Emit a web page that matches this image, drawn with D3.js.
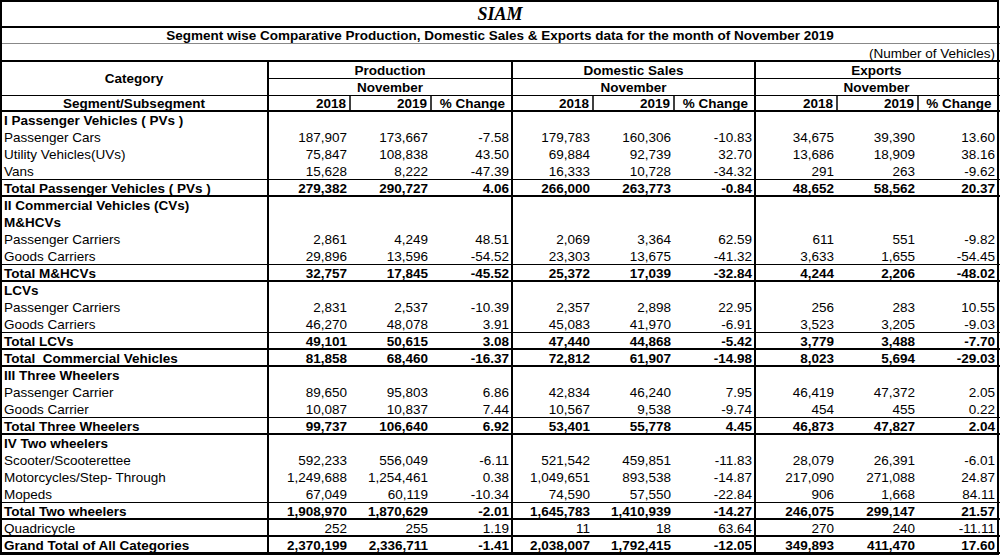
<!DOCTYPE html>
<html>
<head>
<meta charset="utf-8">
<script src="https://cdn.jsdelivr.net/npm/d3@7"></script>
<style>
  html, body { margin: 0; padding: 0; background: #fff; }
  svg { display: block; }
  text { font-family: "Liberation Sans", Arial, sans-serif; font-size: 13.5px; fill: #000; white-space: pre; }
</style>
</head>
<body>
<svg id="chart" width="1000" height="555"></svg>
<script>
// ---------------- DATA ----------------
const titleText = "SIAM";
const subtitleText = "Segment wise Comparative Production, Domestic Sales & Exports data for the month of November 2019";
const unitText = "(Number of Vehicles)";
const groups = ["Production", "Domestic Sales", "Exports"];
const monthLabel = "November";
const subHeaders = ["2018", "2019", "% Change"];

const rowLabels = [
  "I Passenger Vehicles ( PVs )", "Passenger Cars", "Utility Vehicles(UVs)", "Vans",
  "Total Passenger Vehicles ( PVs )", "II Commercial Vehicles (CVs)", "M&HCVs",
  "Passenger Carriers", "Goods Carriers", "Total M&HCVs", "LCVs", "Passenger Carriers",
  "Goods Carriers", "Total LCVs", "Total  Commercial Vehicles", "III Three Wheelers",
  "Passenger Carrier", "Goods Carrier", "Total Three Wheelers", "IV Two wheelers",
  "Scooter/Scooterettee", "Motorcycles/Step- Through", "Mopeds", "Total Two wheelers",
  "Quadricycle", "Grand Total of All Categories"
];
// s = section heading, i = item, t = total (bold), q = boxed plain row
const rowKinds = ["s","i","i","i","t","s","s","i","i","t","s","i","i","t","t","s","i","i","t","s","i","i","i","t","q","t"];

const prod2018 = [null,187907,75847,15628,279382,null,null,2861,29896,32757,null,2831,46270,49101,81858,null,89650,10087,99737,null,592233,1249688,67049,1908970,252,2370199];
const prod2019 = [null,173667,108838,8222,290727,null,null,4249,13596,17845,null,2537,48078,50615,68460,null,95803,10837,106640,null,556049,1254461,60119,1870629,255,2336711];
const prodChg  = [null,-7.58,43.50,-47.39,4.06,null,null,48.51,-54.52,-45.52,null,-10.39,3.91,3.08,-16.37,null,6.86,7.44,6.92,null,-6.11,0.38,-10.34,-2.01,1.19,-1.41];

const dom2018 = [null,179783,69884,16333,266000,null,null,2069,23303,25372,null,2357,45083,47440,72812,null,42834,10567,53401,null,521542,1049651,74590,1645783,11,2038007];
const dom2019 = [null,160306,92739,10728,263773,null,null,3364,13675,17039,null,2898,41970,44868,61907,null,46240,9538,55778,null,459851,893538,57550,1410939,18,1792415];
const domChg  = [null,-10.83,32.70,-34.32,-0.84,null,null,62.59,-41.32,-32.84,null,22.95,-6.91,-5.42,-14.98,null,7.95,-9.74,4.45,null,-11.83,-14.87,-22.84,-14.27,63.64,-12.05];

const exp2018 = [null,34675,13686,291,48652,null,null,611,3633,4244,null,256,3523,3779,8023,null,46419,454,46873,null,28079,217090,906,246075,270,349893];
const exp2019 = [null,39390,18909,263,58562,null,null,551,1655,2206,null,283,3205,3488,5694,null,47372,455,47827,null,26391,271088,1668,299147,240,411470];
const expChg  = [null,13.60,38.16,-9.62,20.37,null,null,-9.82,-54.45,-48.02,null,10.55,-9.03,-7.70,-29.03,null,2.05,0.22,2.04,null,-6.01,24.87,84.11,21.57,-11.11,17.60];

// ---------------- LAYOUT ----------------
const svg = d3.select("#chart");
const W = 1000, H = 555;
const colEdges = [0, 268, 350, 431, 512, 593, 674, 755, 837, 918, 998];
const groupEdges = [268, 512, 755, 998];
const bodyTop = 111, rowH = 17;

const y = d3.scaleLinear().domain([0, rowLabels.length]).range([bodyTop, bodyTop + rowH * rowLabels.length]);
const loc = d3.formatLocale({ decimal: ".", thousands: ",", grouping: [3], currency: ["", ""], minus: "-" });
const fmtInt = loc.format(",");
const fmtPct = loc.format(".2f");

const columns = [prod2018, prod2019, prodChg, dom2018, dom2019, domChg, exp2018, exp2019, expChg];

const lines = svg.append("g");
function hline(yy, x1, x2, w, c) {
  lines.append("line").attr("x1", x1).attr("x2", x2).attr("y1", yy).attr("y2", yy)
    .attr("stroke", c || "#000").attr("stroke-width", w);
}
function vline(xx, y1, y2, w, c) {
  lines.append("line").attr("x1", xx).attr("x2", xx).attr("y1", y1).attr("y2", y2)
    .attr("stroke", c || "#000").attr("stroke-width", w);
}

const txt = svg.append("g");
function label(str, xx, yy, anchor, opts) {
  opts = opts || {};
  const t = txt.append("text").attr("x", xx).attr("y", yy).attr("text-anchor", anchor)
    .attr("dominant-baseline", "central").text(str);
  if (opts.bold) t.attr("font-weight", "bold");
  if (opts.family) t.style("font-family", opts.family);
  if (opts.size) t.style("font-size", opts.size + "px");
  if (opts.italic) t.attr("font-style", "italic");
  return t;
}

// Title rows
label(titleText, 500, 14, "middle", { bold: true, italic: true, family: "'Liberation Serif', 'Times New Roman', serif", size: 18 });
label(subtitleText, 500, 35.5, "middle", { bold: true });
label(unitText, 995, 53, "end");

// header
label("Category", 134, 78.5, "middle", { bold: true });
label("Segment/Subsegment", 134, 103.5, "middle", { bold: true });
groups.forEach((g, gi) => {
  const x0 = groupEdges[gi], x1 = groupEdges[gi + 1];
  label(g, (x0 + x1) / 2, 70, "middle", { bold: true });
  label(monthLabel, (x0 + x1) / 2, 87, "middle", { bold: true });
  subHeaders.forEach((s, si) => {
    const ci = 1 + gi * 3 + si;
    if (si < 2) label(s, colEdges[ci + 1] - 4, 103.5, "end", { bold: true });
    else label(s, (colEdges[ci] + colEdges[ci + 1]) / 2 + 1, 103.5, "middle", { bold: true });
  });
});

// body rows
rowLabels.forEach((lab, i) => {
  const kind = rowKinds[i];
  const cy = y(i) + rowH / 2 + 0.5;
  const bold = kind === "s" || kind === "t";
  label(lab, 4, cy, "start", { bold });
  if (kind === "s") return;
  columns.forEach((col, ci) => {
    const v = col[i];
    if (v == null) return;
    const isPct = ci % 3 === 2;
    label(isPct ? fmtPct(v) : fmtInt(v), colEdges[ci + 2] - 3, cy, "end", { bold });
  });
});

// horizontal rules in header
hline(27, 0, W, 2);
hline(43.5, 0, W, 1, "#888");
hline(61, 0, W, 2);
hline(78.5, 268, W, 1);
hline(95.5, 0, W, 1);
hline(111, 0, W, 2);

// body rules around totals / boxed rows
rowKinds.forEach((k, i) => {
  if (k === "t" || k === "q") {
    hline(y(i) + 0.5, 0, W, 1.2);
    hline(y(i + 1), 0, W, 2);
  }
});

// vertical rules
groupEdges.slice(0, 3).forEach(gx => vline(gx, 61, y(rowLabels.length), 2));
[350, 431, 593, 674, 837, 918].forEach(cx => vline(cx, 95.5, 111, 1.5));

// outer border
svg.append("rect").attr("x", 1).attr("y", 1).attr("width", W - 3).attr("height", H - 2)
  .attr("fill", "none").attr("stroke", "#000").attr("stroke-width", 2);
</script>
</body>
</html>
